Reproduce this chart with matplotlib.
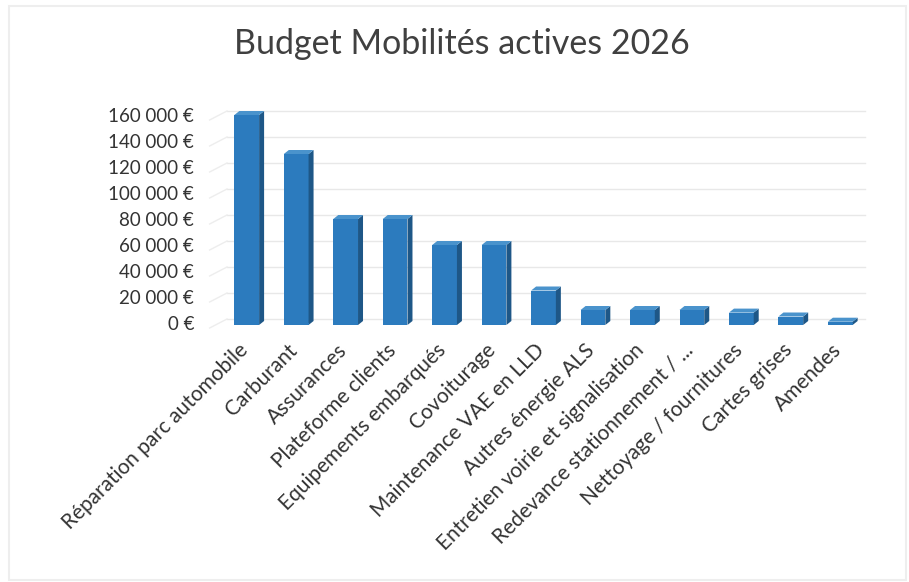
import matplotlib
matplotlib.use("Agg")
import matplotlib.pyplot as plt
from matplotlib.patches import Polygon, Rectangle
from matplotlib.transforms import ScaledTranslation
import numpy as np

categories = ["Réparation parc automobile", "Carburant", "Assurances", "Plateforme clients",
              "Equipements embarqués", "Covoiturage", "Maintenance VAE en LLD", "Autres énergie ALS",
              "Entretien voirie et signalisation", "Redevance stationnement / ...",
              "Nettoyage / fournitures", "Cartes grises", "Amendes"]
values = [160000, 130000, 80000, 80000, 60000, 60000, 25000, 10000, 10000, 10000, 8000, 5000, 1000]
yticks = [0, 20000, 40000, 60000, 80000, 100000, 120000, 140000, 160000]
ytick_labels = ["0 €", "20 000 €", "40 000 €", "60 000 €", "80 000 €",
                "100 000 €", "120 000 €", "140 000 €", "160 000 €"]
title = "Budget Mobilités actives 2026"

plt.rcParams['font.family'] = ['Lato', 'DejaVu Sans']

W, H = 909, 582
fig = plt.figure(figsize=(W / 100, H / 100), dpi=100)
ax = fig.add_axes([222 / W, (H - 323) / H, 643 / W, 208 / H])
ax.set_xlim(-0.5, len(categories) - 0.5)
ax.set_ylim(0, 160000)

# px -> data conversion
px_x = 1 / 49.5
px_y = 160000 / 208
dx, dy = 5 * px_x, 4 * px_y

front = "#2C7BBE"
side = "#1E5787"
top = "#4A93CC"

# gridlines (back wall, slightly raised)
for t in yticks:
    ax.plot([-0.5 + dx, len(categories) - 0.5], [t + dy, t + dy], color="#E8E8E8", lw=1, zorder=0, clip_on=False)
    ax.plot([-0.5 - 0.25, -0.5 + dx], [t - 5 * px_y, t + dy], color="#EDEDED", lw=1, zorder=0, clip_on=False)

x = np.arange(len(categories))
bw = 0.5
bars = ax.bar(x, values, width=bw, color=front, zorder=2, clip_on=False)
for xi, v in zip(x, values):
    l, r = xi - bw / 2, xi + bw / 2
    base = -2 * px_y
    ax.add_patch(Polygon([(r, base), (r + dx, base + dy), (r + dx, v + dy), (r, v)],
                         closed=True, facecolor=side, edgecolor="none", zorder=2, clip_on=False))
    ax.add_patch(Polygon([(l, v), (l + dx, v + dy), (r + dx, v + dy), (r, v)],
                         closed=True, facecolor=top, edgecolor="none", zorder=2, clip_on=False))
    ax.add_patch(Rectangle((l, base), bw, -base, facecolor=front, edgecolor="none", zorder=2, clip_on=False))

for s in ax.spines.values():
    s.set_visible(False)
ax.set_yticks(yticks)
ax.set_yticklabels(ytick_labels, fontsize=13.5, color="#333333")
ax.tick_params(axis='y', length=0, pad=20)
ax.set_xticks(x)
ax.set_xticklabels(categories, rotation=45, ha='right', rotation_mode='anchor',
                   fontsize=15, color="#333333")
ax.tick_params(axis='x', length=0, pad=5)
offset = ScaledTranslation(-9 / 100, -10 / 100, fig.dpi_scale_trans)
for lab in ax.get_xticklabels():
    lab.set_transform(lab.get_transform() + offset)

fig.text(462 / W, 1 - 44 / H, title, ha='center', va='center', fontsize=24.5, color="#404040")

# faint chart border
fig.add_artist(Rectangle((9 / W, 2 / H), (W - 12) / W, (H - 8) / H, transform=fig.transFigure,
                         fill=False, edgecolor="#EEEEEE", lw=1.5))

fig.savefig("out.png", dpi=100, facecolor="white")
